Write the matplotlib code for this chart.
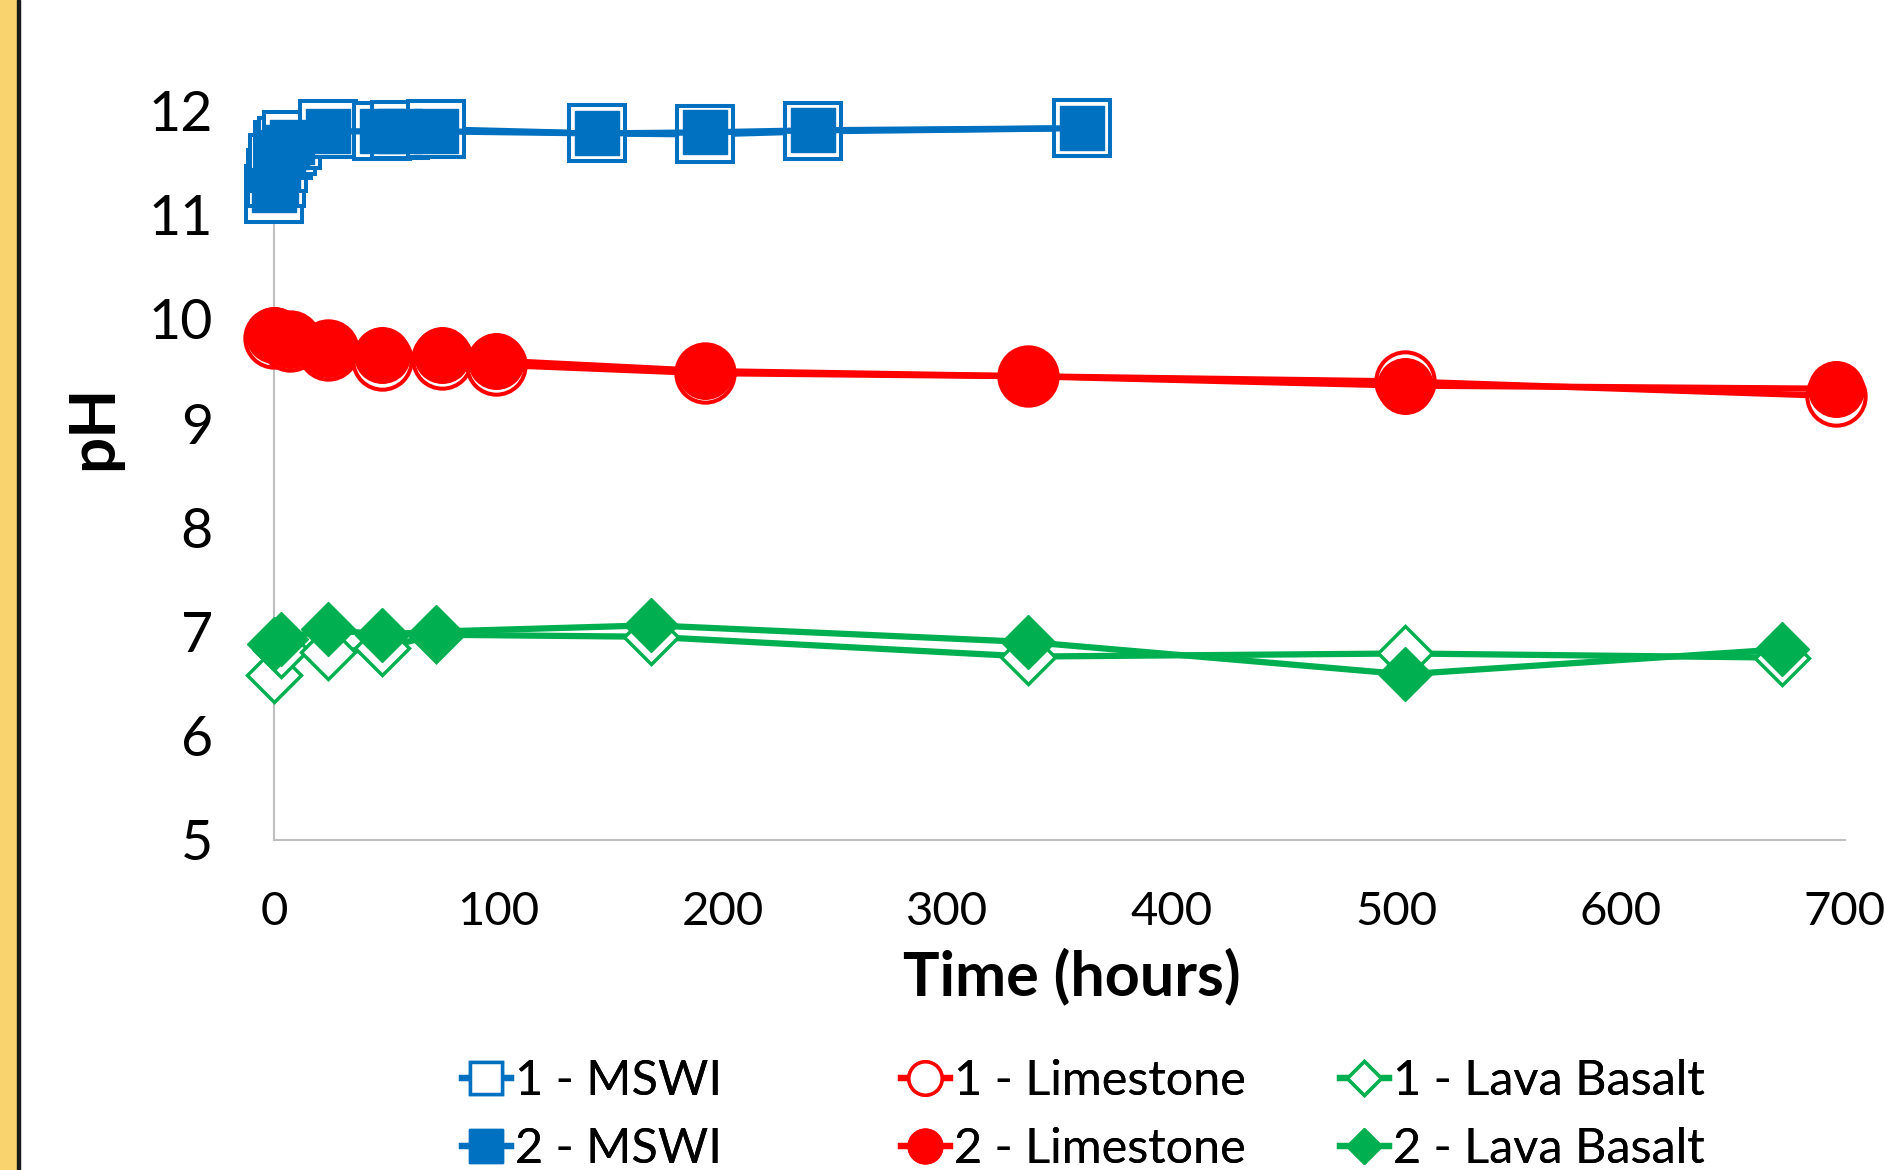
import matplotlib.pyplot as plt
from matplotlib.lines import Line2D
from matplotlib.patches import Rectangle

# pH readings over time (hours)
mswi_t = [0, 1, 2, 4, 6, 8, 24, 48, 56, 72, 144, 192, 240, 360]
mswi_1 = [11.20, 11.35, 11.50, 11.62, 11.66, 11.72, 11.82, 11.80, 11.81, 11.82, 11.78, 11.77, 11.80, 11.83]
mswi_2 = [11.24, 11.30, 11.45, 11.60, 11.65, 11.70, 11.80, 11.80, 11.80, 11.80, 11.78, 11.79, 11.81, 11.83]

lime_t = [0, 7, 24, 48, 75, 99, 192, 336, 504, 696]
lime_1 = [9.82, 9.79, 9.70, 9.61, 9.62, 9.56, 9.48, 9.45, 9.40, 9.26]
lime_2 = [9.85, 9.80, 9.71, 9.65, 9.65, 9.60, 9.50, 9.45, 9.36, 9.33]

lava_t = [0, 3, 24, 48, 72, 168, 336, 504, 672]
lava_1 = [6.58, 6.82, 6.80, 6.84, 6.97, 6.95, 6.76, 6.79, 6.75]
lava_2 = [6.88, 6.93, 7.02, 6.97, 7.00, 7.06, 6.90, 6.59, 6.83]

labels = ['1 - MSWI', '2 - MSWI', '1 - Limestone', '2 - Limestone',
          '1 - Lava Basalt', '2 - Lava Basalt']
x_ticks = [0, 100, 200, 300, 400, 500, 600, 700]
y_ticks = [5, 6, 7, 8, 9, 10, 11, 12]

BLUE = '#0070C0'
RED = '#FF0000'
GREEN = '#00B050'


def main():
    plt.rcParams['font.family'] = ['Lato', 'DejaVu Sans']
    fig = plt.figure(figsize=(18.84, 11.70), dpi=100)

    # yellow strip on the left edge
    fig.patches.append(Rectangle((0, 0), 17 / 1884, 1, transform=fig.transFigure,
                                 color='#F9D46E', zorder=0))
    fig.patches.append(Rectangle((17 / 1884, 0), 2.5 / 1884, 1, transform=fig.transFigure,
                                 color='#1a1a1a', zorder=0))

    ax = fig.add_axes([274 / 1884, 330 / 1170, (1845 - 274) / 1884, (840 - 110.5) / 1170])

    lw = 4.5
    # series 1: open markers, series 2: filled markers
    ax.plot(mswi_t, mswi_1, color=BLUE, lw=lw, marker='s', ms=41, mfc='white',
            mec=BLUE, mew=2.9, clip_on=False, zorder=3)
    ax.plot(mswi_t, mswi_2, color=BLUE, lw=lw, marker='s', ms=31, mfc=BLUE,
            mec=BLUE, mew=1, clip_on=False, zorder=4)
    ax.plot(lime_t, lime_1, color=RED, lw=lw, marker='o', ms=42, mfc='white',
            mec=RED, mew=2.9, clip_on=False, zorder=3)
    ax.plot(lime_t, lime_2, color=RED, lw=lw, marker='o', ms=40, mfc=RED,
            mec=RED, mew=1, clip_on=False, zorder=4)
    ax.plot(lava_t, lava_1, color=GREEN, lw=lw, marker='D', ms=28, mfc='white',
            mec=GREEN, mew=2.5, clip_on=False, zorder=3)
    ax.plot(lava_t, lava_2, color=GREEN, lw=lw, marker='D', ms=27, mfc=GREEN,
            mec=GREEN, mew=1, clip_on=False, zorder=4)

    ax.set_xlim(0, 700)
    ax.set_ylim(5, 12)
    ax.set_xticks(x_ticks)
    ax.set_yticks(y_ticks)
    ax.tick_params(axis='x', length=0, pad=37, labelsize=34)
    ax.tick_params(axis='y', length=0, pad=44, labelsize=40)
    for side in ['top', 'right']:
        ax.spines[side].set_visible(False)
    for side in ['left', 'bottom']:
        ax.spines[side].set_color('#BFBFBF')
        ax.spines[side].set_linewidth(1.5)

    w = 1845 - 274
    h = 840 - 110.5
    ax.set_xlabel('Time (hours)', fontsize=44, fontweight='bold')
    ax.xaxis.set_label_coords((1072 - 274) / w, -(947 - 840) / h)
    ax.set_ylabel('pH', fontsize=46, fontweight='bold')
    ax.yaxis.set_label_coords(-(274 - 122) / w, (840 - 427) / h)

    # legend proxies, one legend per column
    handles = [
        Line2D([], [], color=BLUE, lw=lw, marker='s', ms=23, mfc='white', mec=BLUE, mew=2.5),
        Line2D([], [], color=BLUE, lw=lw, marker='s', ms=24, mfc=BLUE, mec=BLUE),
        Line2D([], [], color=RED, lw=lw, marker='o', ms=24, mfc='white', mec=RED, mew=2.5),
        Line2D([], [], color=RED, lw=lw, marker='o', ms=25, mfc=RED, mec=RED),
        Line2D([], [], color=GREEN, lw=lw, marker='D', ms=17, mfc='white', mec=GREEN, mew=2.5),
        Line2D([], [], color=GREEN, lw=lw, marker='D', ms=18, mfc=GREEN, mec=GREEN),
    ]
    col_x = [462, 901, 1340]
    for i, x in enumerate(col_x):
        leg = fig.legend(handles[2 * i:2 * i + 2], labels[2 * i:2 * i + 2], loc='upper left',
                         bbox_to_anchor=(x / 1884, 1 - 1059 / 1170), frameon=False,
                         fontsize=35, handlelength=1.0, handletextpad=0.1,
                         labelspacing=0.5, borderpad=0, borderaxespad=0)
        fig.add_artist(leg)

    fig.savefig('out.png', dpi=100)


if __name__ == '__main__':
    main()
